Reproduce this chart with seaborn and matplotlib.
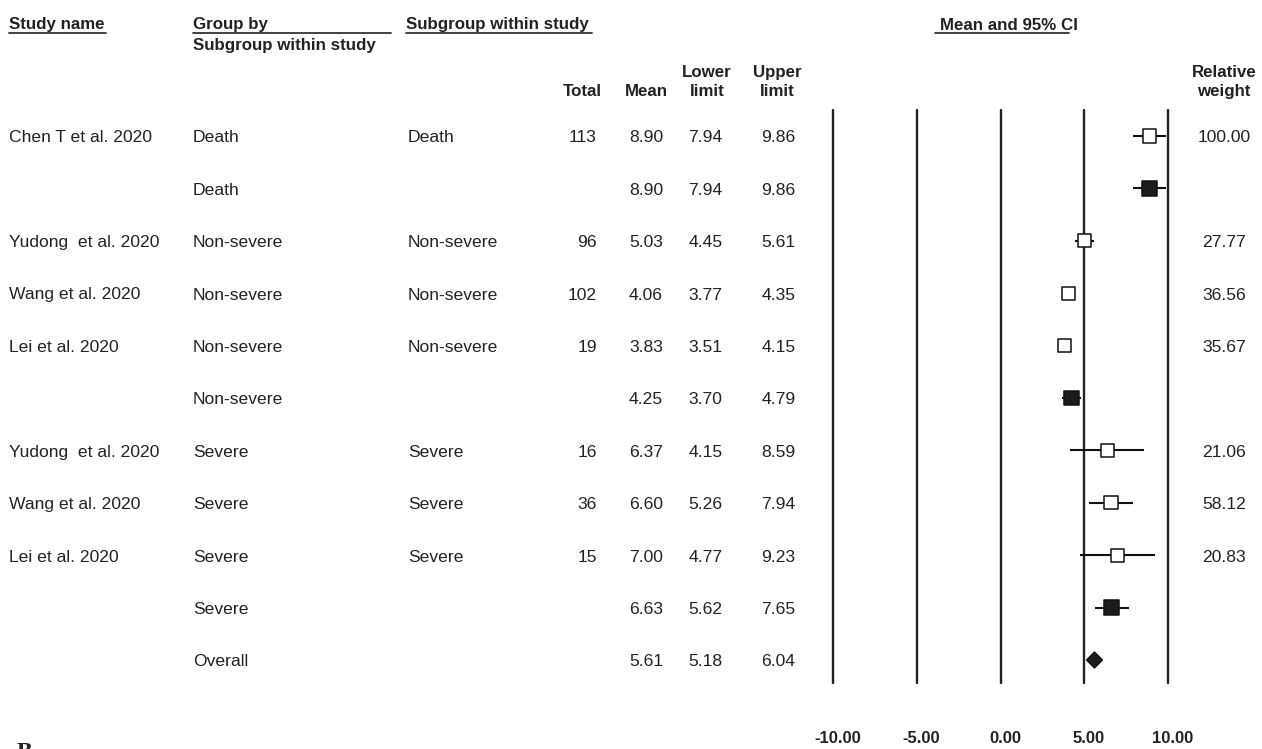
import matplotlib
matplotlib.use("Agg")
import matplotlib.pyplot as plt
import seaborn as sns
import pandas as pd
from matplotlib import transforms
from matplotlib.lines import Line2D

# ---------------- data ----------------
study_names = ["Chen T et al. 2020", "", "Yudong  et al. 2020", "Wang et al. 2020",
               "Lei et al. 2020", "", "Yudong  et al. 2020", "Wang et al. 2020",
               "Lei et al. 2020", "", ""]
group_by = ["Death", "Death", "Non-severe", "Non-severe", "Non-severe", "Non-severe",
            "Severe", "Severe", "Severe", "Severe", "Overall"]
subgroup = ["Death", "", "Non-severe", "Non-severe", "Non-severe", "",
            "Severe", "Severe", "Severe", "", ""]
totals = ["113", "", "96", "102", "19", "", "16", "36", "15", "", ""]
means = [8.90, 8.90, 5.03, 4.06, 3.83, 4.25, 6.37, 6.60, 7.00, 6.63, 5.61]
lower = [7.94, 7.94, 4.45, 3.77, 3.51, 3.70, 4.15, 5.26, 4.77, 5.62, 5.18]
upper = [9.86, 9.86, 5.61, 4.35, 4.15, 4.79, 8.59, 7.94, 9.23, 7.65, 6.04]
weights = ["100.00", "", "27.77", "36.56", "35.67", "", "21.06", "58.12", "20.83", "", ""]
kinds = ["study", "subgroup", "study", "study", "study", "subgroup",
         "study", "study", "study", "subgroup", "overall"]
x_ticks = [-10, -5, 0, 5, 10]
x_tick_labels = ["-10.00", "-5.00", "0.00", "5.00", "10.00"]

df = pd.DataFrame({"study": study_names, "group": group_by, "sub": subgroup,
                   "total": totals, "mean": means, "lower": lower, "upper": upper,
                   "weight": weights, "kind": kinds})
df["row"] = range(len(df))

# ---------------- style ----------------
sns.set_style("white")
plt.rcParams["font.family"] = ["Liberation Sans", "DejaVu Sans"]

W, H = 1262, 749
fig = plt.figure(figsize=(W / 100, H / 100), dpi=100)


def fx(px):
    return px / W


def fy(py):
    return 1 - py / H


ROW0, ROWSTEP = 136, 52.4
ax = fig.add_axes([fx(833), fy(683), (1168 - 833) / W, (683 - 110) / H])
ax.set_xlim(-10, 10)
ax.set_ylim((683 - ROW0) / ROWSTEP, (110 - ROW0) / ROWSTEP)

# vertical reference lines
for xv in x_ticks:
    ax.axvline(xv, color="#222222", lw=1.7, zorder=1, clip_on=False)

# confidence intervals
ax.hlines(df["row"], df["lower"], df["upper"], color="#111111", lw=1.5, zorder=2,
          clip_on=False)

# markers
sns.scatterplot(data=df, x="mean", y="row", hue="kind", style="kind", size="kind",
                palette={"study": "white", "subgroup": "#1c1c1c", "overall": "#1c1c1c"},
                markers={"study": "s", "subgroup": "s", "overall": "D"},
                sizes={"study": 92, "subgroup": 108, "overall": 64},
                edgecolor="#111111", linewidth=1.1, legend=False, ax=ax,
                zorder=3, clip_on=False)

for sp in ax.spines.values():
    sp.set_visible(False)
ax.set_xlabel("")
ax.set_ylabel("")
ax.set_yticks([])
ax.set_xticks(x_ticks)
ax.set_xticklabels(x_tick_labels, fontweight="bold", fontsize=12, color="#222222")
ax.tick_params(axis="x", length=0, pad=34.5)
for lab in ax.get_xticklabels():
    lab.set_transform(lab.get_transform() +
                      transforms.ScaledTranslation(4.5 / 100, 0, fig.dpi_scale_trans))

# ---------------- table text ----------------
DATA_FS = 12.6
HEAD_FS = 12.2
TXT = "#222222"
row_tr = transforms.blended_transform_factory(fig.transFigure, ax.transData) + \
    transforms.ScaledTranslation(0, -6.3 / 100, fig.dpi_scale_trans)

columns = [("study", 9, "left"), ("group", 193, "left"), ("sub", 408, "left"),
           ("total", 597, "right"), ("weight", 1224, "center")]
for _, r in df.iterrows():
    for col, xp, ha in columns:
        if r[col]:
            ax.text(fx(xp), r["row"], r[col], transform=row_tr, ha=ha, va="baseline",
                    fontsize=DATA_FS, color=TXT)
    for val, xp in ((r["mean"], 646), (r["lower"], 705.5), (r["upper"], 778.5)):
        ax.text(fx(xp), r["row"], f"{val:.2f}", transform=row_tr, ha="center",
                va="baseline", fontsize=DATA_FS, color=TXT)

# ---------------- headers ----------------
def head(xp, yp, s, ha="left"):
    fig.text(fx(xp), fy(yp), s, ha=ha, va="baseline", fontsize=HEAD_FS,
             fontweight="bold", color=TXT)


def uline(x0, x1, yp=33):
    fig.add_artist(Line2D([fx(x0), fx(x1)], [fy(yp), fy(yp)], color="#333333", lw=1.3))


head(9, 29, "Study name")
uline(9, 106)
head(193, 29, "Group by")
uline(193, 391)
head(193, 50, "Subgroup within study")
head(406, 29, "Subgroup within study")
uline(406, 592)
head(1009, 30, "Mean and 95% CI", ha="center")
uline(935, 1069)

head(602, 96, "Total", ha="right")
head(668, 96, "Mean", ha="right")
head(707, 77, "Lower", ha="center")
head(707, 96, "limit", ha="center")
head(777, 77, "Upper", ha="center")
head(777, 96, "limit", ha="center")
head(1224, 77, "Relative", ha="center")
head(1224, 96, "weight", ha="center")

fig.text(fx(17), fy(758), "B", ha="left", va="baseline", fontsize=17,
         fontweight="bold", family=["Liberation Serif", "DejaVu Serif"], color=TXT)

fig.savefig("out.png", dpi=100)
